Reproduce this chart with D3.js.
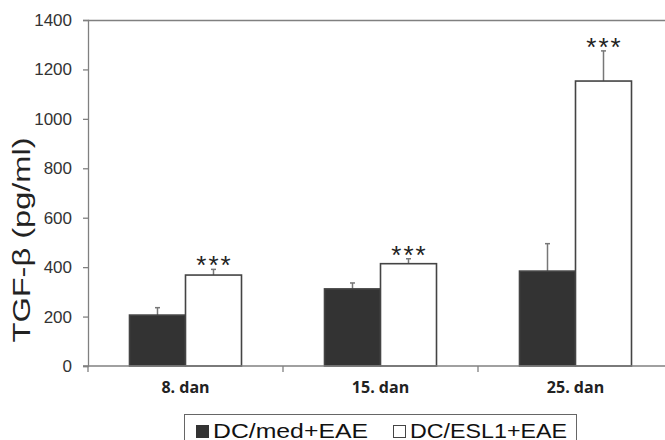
<!DOCTYPE html>
<html>
<head>
<meta charset="utf-8">
<script src="https://cdn.jsdelivr.net/npm/d3@7"></script>
<style>
  html, body { margin: 0; padding: 0; background: #fff; }
  svg { display: block; }
</style>
</head>
<body>
<svg id="chart" width="665" height="440"></svg>
<script>
  // ---- Data ----
  const categories = ["8. dan", "15. dan", "25. dan"];
  const seriesNames = ["DC/med+EAE", "DC/ESL1+EAE"];
  const medValues = [206, 312, 384];
  const medErrors = [30, 24, 111];
  const eslValues = [368, 414, 1153];
  const eslErrors = [23, 20, 122];
  const yTicks = [0, 200, 400, 600, 800, 1000, 1200, 1400];
  const stars = ["***", "***", "***"];

  const rows = categories.map((c, i) => ({
    cat: c,
    star: stars[i],
    bars: [
      { key: seriesNames[0], value: medValues[i], err: medErrors[i] },
      { key: seriesNames[1], value: eslValues[i], err: eslErrors[i] },
    ],
  }));

  // ---- Layout ----
  const plot = { left: 88, right: 673, top: 20, bottom: 366 };
  const barW = 56;
  const axisColor = "#808080";
  const dark = "#333333";
  const edge = "#444444";
  const sans = "'Liberation Sans', Arial, sans-serif";

  const svg = d3.select("#chart");

  const x = d3.scaleBand().domain(categories).range([plot.left, plot.right]).padding(0);
  const bw = x.bandwidth();
  const x1 = d3.scaleBand().domain(seriesNames).range([bw / 2 - barW, bw / 2 + barW]).padding(0);
  const y = d3.scaleLinear().domain([0, 1400]).range([plot.bottom, plot.top]);

  // top + right frame lines
  svg.append("line")
    .attr("x1", plot.left).attr("x2", plot.right)
    .attr("y1", plot.top + 0.5).attr("y2", plot.top + 0.5)
    .attr("stroke", axisColor).attr("stroke-width", 1.3);
  svg.append("line")
    .attr("x1", plot.right).attr("x2", plot.right)
    .attr("y1", plot.top).attr("y2", plot.bottom)
    .attr("stroke", axisColor).attr("stroke-width", 1.3);

  // ---- Y axis ----
  const yAxis = svg.append("g")
    .attr("transform", `translate(${plot.left},0)`)
    .call(d3.axisLeft(y).tickValues(yTicks).tickSize(5).tickPadding(11).tickFormat(d3.format("d")));
  yAxis.select(".domain").attr("stroke", axisColor).attr("stroke-width", 1.3);
  yAxis.selectAll(".tick line").attr("stroke", axisColor).attr("stroke-width", 1.3);
  yAxis.selectAll(".tick text")
    .attr("fill", "#333")
    .style("font-family", sans)
    .style("font-size", "17px");

  svg.append("text")
    .attr("transform", "translate(30,240) rotate(-90)")
    .attr("text-anchor", "middle")
    .attr("fill", "#222")
    .attr("textLength", 205)
    .attr("lengthAdjust", "spacingAndGlyphs")
    .style("font-family", sans)
    .style("font-size", "23px")
    .text("TGF-β (pg/ml)");

  // ---- Bars ----
  const groups = svg.append("g").selectAll("g")
    .data(rows)
    .join("g")
    .attr("transform", (d) => `translate(${x(d.cat)},0)`);

  // error bars (upward only)
  groups.selectAll("g.err")
    .data((d) => d.bars)
    .join("g")
    .attr("class", "err")
    .each(function (b) {
      const g = d3.select(this);
      const cx = x1(b.key) + x1.bandwidth() / 2;
      g.append("line")
        .attr("x1", cx).attr("x2", cx)
        .attr("y1", y(b.value)).attr("y2", y(b.value + b.err))
        .attr("stroke", "#777").attr("stroke-width", 1.5);
      g.append("line")
        .attr("x1", cx - 2.5).attr("x2", cx + 2.5)
        .attr("y1", y(b.value + b.err)).attr("y2", y(b.value + b.err))
        .attr("stroke", "#777").attr("stroke-width", 1.5);
    });

  groups.selectAll("rect")
    .data((d) => d.bars)
    .join("rect")
    .attr("x", (b) => x1(b.key))
    .attr("y", (b) => y(b.value))
    .attr("width", x1.bandwidth())
    .attr("height", (b) => y(0) - y(b.value))
    .attr("fill", (b, i) => (i === 0 ? dark : "#fff"))
    .attr("stroke", edge)
    .attr("stroke-width", 1.6);

  // significance stars over the ESL1 bar
  groups.append("text")
    .attr("x", x1(seriesNames[1]) + x1.bandwidth() / 2 + 1)
    .attr("y", (d) => y(d.bars[1].value + d.bars[1].err) + 5)
    .attr("text-anchor", "middle")
    .attr("fill", "#222")
    .style("font-family", sans)
    .style("font-size", "26px")
    .style("letter-spacing", "2px")
    .text((d) => d.star);

  // ---- X axis ----
  svg.append("line")
    .attr("x1", plot.left - 5).attr("x2", plot.right)
    .attr("y1", plot.bottom).attr("y2", plot.bottom)
    .attr("stroke", axisColor).attr("stroke-width", 1.3);
  svg.append("g").selectAll("line")
    .data(categories)
    .join("line")
    .attr("x1", (d) => x(d)).attr("x2", (d) => x(d))
    .attr("y1", plot.bottom).attr("y2", plot.bottom + 6)
    .attr("stroke", axisColor).attr("stroke-width", 1.3);

  svg.append("g").selectAll("text")
    .data(categories)
    .join("text")
    .attr("x", (d) => x(d) + bw / 2)
    .attr("y", plot.bottom + 27)
    .attr("text-anchor", "middle")
    .attr("fill", "#222")
    .style("font-family", "'Open Sans', sans-serif")
    .style("font-weight", "bold")
    .style("font-size", "16px")
    .text((d) => d);

  // ---- Legend ----
  const legend = svg.append("g");
  legend.append("rect")
    .attr("x", 184.5).attr("y", 414.5)
    .attr("width", 392).attr("height", 40)
    .attr("fill", "#fff").attr("stroke", "#666").attr("stroke-width", 1);

  const legendX = [196, 393];
  const legendLen = [155, 157];
  seriesNames.forEach((name, i) => {
    legend.append("rect")
      .attr("x", legendX[i] + 0.5).attr("y", 425.5)
      .attr("width", 12).attr("height", 12)
      .attr("fill", i === 0 ? dark : "#fff")
      .attr("stroke", i === 0 ? dark : "#444")
      .attr("stroke-width", 1);
    legend.append("text")
      .attr("x", legendX[i] + 17)
      .attr("y", 437.5)
      .attr("fill", "#111")
      .attr("textLength", legendLen[i])
      .attr("lengthAdjust", "spacingAndGlyphs")
      .style("font-family", sans)
      .style("font-size", "21px")
      .text(name);
  });
</script>
</body>
</html>
